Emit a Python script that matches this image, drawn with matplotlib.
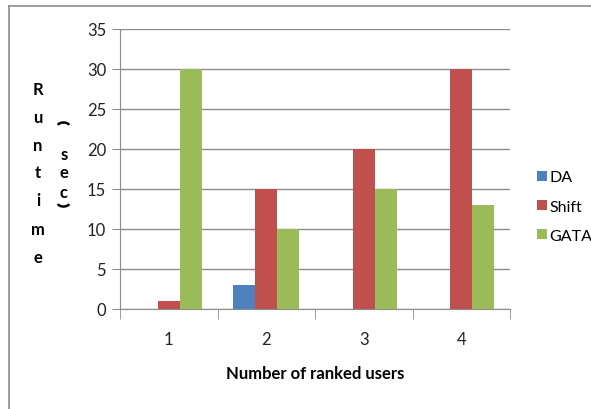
import matplotlib.pyplot as plt
import numpy as np
from matplotlib.lines import Line2D
from matplotlib.patches import Arc
from matplotlib.transforms import IdentityTransform

categories = ['1', '2', '3', '4']
series = ['DA', 'Shift', 'GATA']
da = [0, 3, 0, 0]
shift = [1, 15, 20, 30]
gata = [30, 10, 15, 13]
colors = ['#4F81BD', '#C0504D', '#9BBB59']

plt.rcParams['font.family'] = ['Lato', 'DejaVu Sans']

W, H = 591, 410
fig = plt.figure(figsize=(W / 100, H / 100), dpi=100)
ax = fig.add_axes([120 / W, 1 - 310 / H, 390 / W, 280 / H])

x = np.arange(len(categories))
bw = 0.227
for i, (vals, c) in enumerate(zip([da, shift, gata], colors)):
    ax.bar(x + (i - 1) * bw, vals, bw, color=c, label=series[i], zorder=3)

ax.set_xlim(-0.5, len(categories) - 0.5)
ax.set_ylim(0, 35)
ax.set_yticks(np.arange(0, 36, 5))
ax.set_xticks(x)
ax.set_xticklabels(categories)
ax.set_xticks(np.arange(-0.5, len(categories), 1), minor=True)
ax.grid(axis='y', color='#8C8C8C', linewidth=1, zorder=0)
for s in ['top', 'right']:
    ax.spines[s].set_visible(False)
for s in ['left', 'bottom']:
    ax.spines[s].set_color('#8C8C8C')
ax.tick_params(axis='y', length=6, color='#8C8C8C', labelsize=12, pad=4, labelcolor='#222222')
ax.tick_params(axis='x', which='major', length=0, labelsize=12, pad=16, labelcolor='#222222')
ax.tick_params(axis='x', which='minor', length=7, color='#8C8C8C')

ax.set_xlabel('Number of ranked users', fontsize=12, fontweight='bold', labelpad=13)

# stacked y label "Runtime (sec)", parentheses drawn as flat arcs
for ch, yp in zip('Runtime', [90, 118, 146, 173, 201, 230, 258]):
    fig.text(38 / W, 1 - yp / H, ch, ha='center', va='center', fontsize=12, fontweight='bold')
for ch, yp in zip('sec', [155, 173, 193]):
    fig.text(64 / W, 1 - yp / H, ch, ha='center', va='center', fontsize=12, fontweight='bold')
fig.add_artist(Arc((63.5, H - 128), 13, 9, theta1=20, theta2=160,
                   transform=IdentityTransform(), color='black', lw=1.8))
fig.add_artist(Arc((63.5, H - 203), 13, 9, theta1=200, theta2=340,
                   transform=IdentityTransform(), color='black', lw=1.8))

ax.legend(loc='upper left', bbox_to_anchor=(531 / W, 1 - 165 / H), bbox_transform=fig.transFigure,
          frameon=False, fontsize=11.5, handlelength=0.6, handleheight=0.6, handletextpad=0.15,
          labelspacing=0.95, borderaxespad=0)

# chart border
fig.add_artist(Line2D([9 / W, 9 / W], [0, 1 - 7 / H], transform=fig.transFigure, color='#8C8C8C', lw=1.2))
fig.add_artist(Line2D([9 / W, 1], [1 - 7 / H, 1 - 7 / H], transform=fig.transFigure, color='#8C8C8C', lw=1.2))

fig.savefig('out.png', dpi=100)
